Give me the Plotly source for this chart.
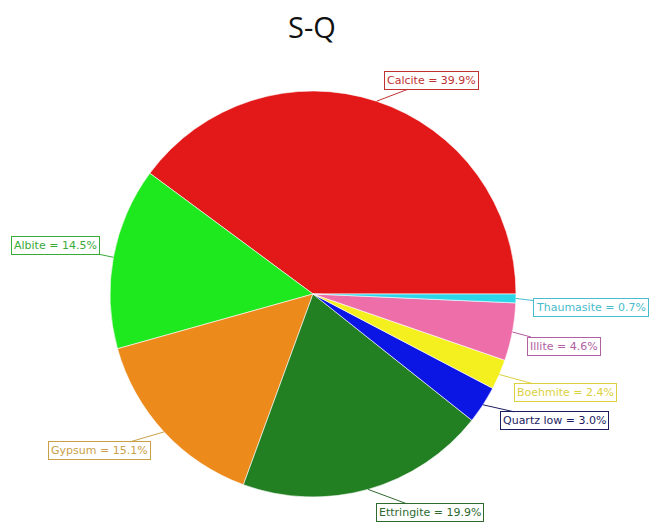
import math
import plotly.graph_objects as go

# ---- data ----
minerals = ["Calcite", "Albite", "Gypsum", "Ettringite", "Quartz low", "Boehmite", "Illite", "Thaumasite"]
percent = [39.9, 14.5, 15.1, 19.9, 3.0, 2.4, 4.6, 0.7]
title_text = "S-Q"

# ---- style ----
slice_colors = ["#e31818", "#1ee81e", "#ec8a1c", "#227f22", "#0c16e4", "#f4ef1e", "#ee6eaa", "#2ad6e8"]
label_colors = ["#c03232", "#3aaa3a", "#c9a048", "#2e6a2e", "#1c1c60", "#ddd040", "#b060a0", "#48bccc"]
# label box offsets (pixels) from the slice's outer mid-point
label_dx = [55, -58, -65, 62, 71, 66, 52, 75]
label_dy = [-21, -12, 19, 23, 16, 18, 14, 9]

W, H = 654, 522
cx, cy, R = 313, 294, 203  # pie centre / radius in pixels

dom_x = [(cx - R) / W, (cx + R) / W]
dom_y = [(H - cy - R) / H, (H - cy + R) / H]

total = sum(percent)
# first slice runs counterclockwise from 3 o'clock; plotly anchors the end of the first slice at 'rotation'
rot = 90 - percent[0] / total * 360

fig = go.Figure(go.Pie(
    labels=minerals,
    values=percent,
    sort=False,
    direction="counterclockwise",
    rotation=rot,
    marker=dict(colors=slice_colors, line=dict(color="white", width=0.6)),
    textinfo="none",
    hoverinfo="label+percent",
    domain=dict(x=dom_x, y=dom_y),
    showlegend=False,
))

cum = 0.0
annotations = []
for name, v, col, dx, dy in zip(minerals, percent, label_colors, label_dx, label_dy):
    mid = (cum + v / 2) / total * 2 * math.pi
    cum += v
    px = cx + R * math.cos(mid)
    py = cy - R * math.sin(mid)
    annotations.append(dict(
        x=px / W, y=1 - py / H, xref="paper", yref="paper",
        text=f"{name} = {v:.1f}%",
        showarrow=True, arrowhead=0, arrowwidth=1, arrowcolor=col,
        ax=dx, ay=dy,
        font=dict(family="DejaVu Sans, Verdana, sans-serif", size=11, color=col),
        bordercolor=col, borderwidth=1, borderpad=2, bgcolor="white",
    ))

fig.update_layout(
    width=W, height=H,
    margin=dict(l=0, r=0, t=0, b=0),
    paper_bgcolor="white", plot_bgcolor="white",
    title=dict(text=title_text, x=312 / W, xanchor="center", y=1 - 28 / H, yanchor="middle",
               font=dict(family="Open Sans, sans-serif", size=29, color="#111111")),
    annotations=annotations,
)

fig.write_html("out.html", config={"displayModeBar": False},
               post_script="document.body.style.margin='0';")
